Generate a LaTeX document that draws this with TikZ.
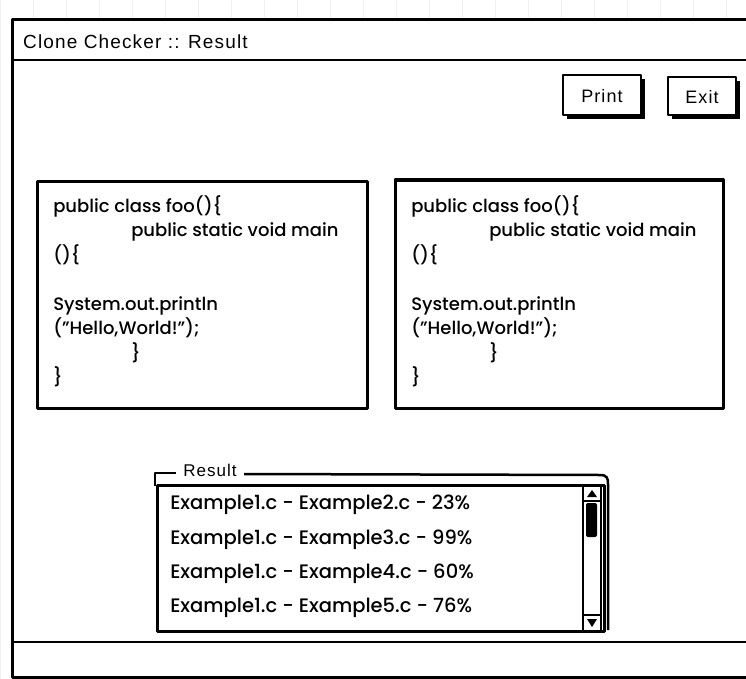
\documentclass[tikz,border=0pt]{standalone}
\usepackage{fontspec}
\setmainfont{Poppins}[UprightFont=* Medium]
\newfontfamily\titlefont{Liberation Sans}[LetterSpace=6]
\begin{document}
\begin{tikzpicture}[x=1pt,y=-1pt,line join=round,line width=2.5pt]
\tikzset{
  codetext/.style={anchor=north west,align=left,inner sep=0pt,font=\fontsize{18}{24.5}\selectfont},
  itemtext/.style={anchor=west,inner sep=0pt,font=\fontsize{19.5}{20}\selectfont},
  btntext/.style={inner sep=0pt,font=\titlefont\fontsize{18}{20}\selectfont},
  btnshadow/.style={fill=black},
  btnface/.style={fill=white,draw=black,line width=2pt}
}
\useasboundingbox (0,0) rectangle (746,679);
\fill[white] (0,0) rectangle (746,679);
\draw[gray!12,line width=0.6pt] (0,0) grid[step=33] (746,679);

% window frame
\filldraw[fill=white,line width=3pt](12,20)--(760,20)--(760,677)--(12,677)--cycle;
\draw(12,60)--(760,60);
\draw(12,642)--(760,642);
\node[anchor=west,inner sep=0pt,font=\titlefont\fontsize{19}{22}\selectfont] (title) at (22,42) {Clone Checker :: Result};

% buttons
\fill[btnshadow](567,79) rectangle (645,119);
\filldraw[btnface](563,75) rectangle (641,115);
\node[btntext] (print) at (602,96) {Print};
\fill[btnshadow](672,81) rectangle (740,119);
\filldraw[btnface](668,77) rectangle (736,115);
\node[btntext] (exit) at (702,97) {Exit};

% code panes
\draw[line width=3pt](37,181) rectangle (367,408);
\draw[line width=3pt](395,180) rectangle (723,408);
\node[codetext] (codeL) at (52,194) {public class foo()\{\\
\hspace*{78pt}public static void main\\
()\{\\[24.5pt]
System.out.println\\
("Hello,World!");\\
\hspace*{78pt}\}\\
\}};
\node[codetext] (codeR) at (410,194) {public class foo()\{\\
\hspace*{78pt}public static void main\\
()\{\\[24.5pt]
System.out.println\\
("Hello,World!");\\
\hspace*{78pt}\}\\
\}};

% result list
\draw(155,486)--(155,473)--(176,473);
\node[inner sep=0pt,font=\titlefont\fontsize{17}{20}\selectfont] (resultlbl) at (210,470) {Result};
\draw(244,474)--(600,475)..controls (607,475) and (608,478) .. (608,484)--(608,630);
\filldraw[fill=white,line width=3pt](157,485) rectangle (604,631);
\foreach \n/\p/\y in {2/23/505,3/99/540,4/60/574,5/76/608}
  \node[itemtext] (item\n) at (169,\y) {Example1.c - Example\n.c - \p\%};

% scrollbar
\draw[line width=1.5pt](583,485) rectangle (601,631);
\draw[line width=1.5pt](583,501)--(601,501);
\draw[line width=1.5pt](583,615)--(601,615);
\fill(587,497)--(597,497)--(592,490)--cycle;
\fill(587,619)--(597,619)--(592,627)--cycle;
\fill[rounded corners=2pt](586,503) rectangle (597,537);
\end{tikzpicture}
\end{document}
